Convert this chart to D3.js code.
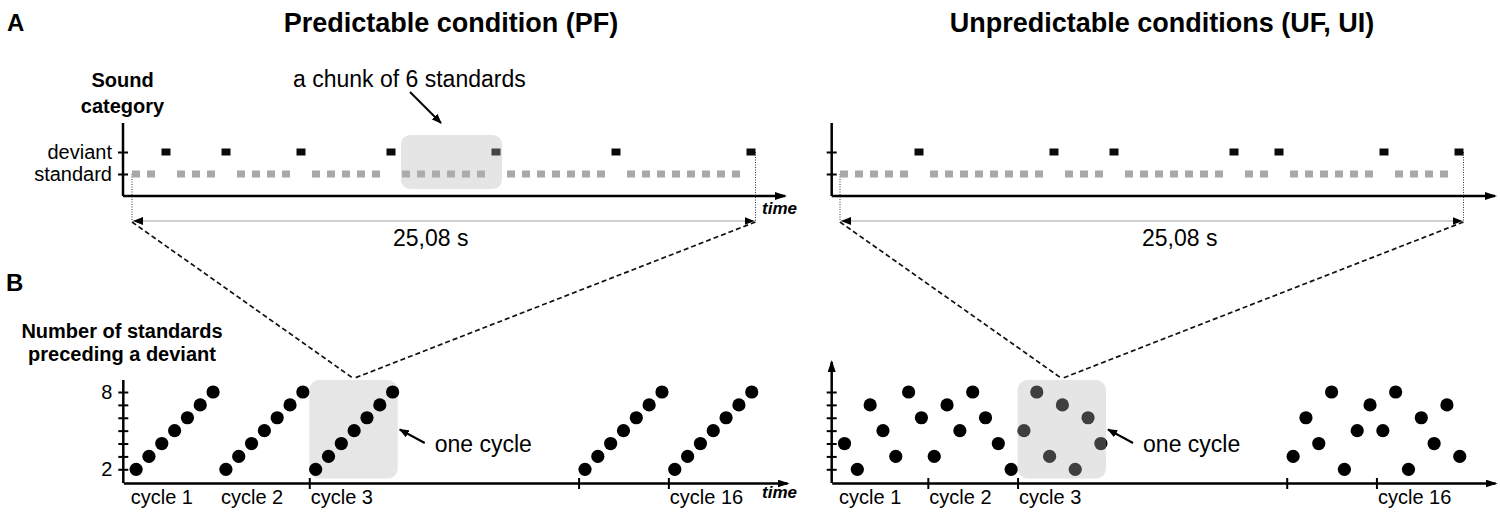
<!DOCTYPE html>
<html>
<head>
<meta charset="utf-8">
<script src="https://cdn.jsdelivr.net/npm/d3@7/dist/d3.min.js"></script>
<style>
    body { margin: 0; background: #fff; }
    svg { display: block; }
    text { font-family: "Liberation Sans", Arial, sans-serif; fill: #000; }
</style>
</head>
<body>
<svg id="figure" width="1500" height="514"></svg>
<script>
// Number of standards preceding each deviant, in the order they are played.
const pfRuns = [2, 3, 4, 5, 6, 7, 8];
const ufRuns = [5, 8, 3, 7, 2, 6, 4];

const categories = ["standard", "deviant"];

// Cycles shown on the lower axis (the gap stands for cycles 4..14).
const cycleNumbers = [1, 2, 3, 15, 16];
const cycleSlots = [0, 1, 2, 5, 6];
const labeledCycles = [1, 2, 3, 16];
const pfTickedCycles = [3, 15, 16];
const ufTickedCycles = [2, 3, 15, 16];
const highlightCycle = 3;

// Number of standards preceding a deviant, per cycle.
const pfCycleValues = [
    [2, 3, 4, 5, 6, 7, 8],
    [2, 3, 4, 5, 6, 7, 8],
    [2, 3, 4, 5, 6, 7, 8],
    [2, 3, 4, 5, 6, 7, 8],
    [2, 3, 4, 5, 6, 7, 8]
];
const ufCycleValues = [
    [4, 2, 7, 5, 3, 8, 6],
    [3, 7, 5, 8, 6, 4, 2],
    [5, 8, 3, 7, 2, 6, 4],
    [3, 6, 4, 8, 2, 5, 7],
    [5, 8, 2, 6, 4, 7, 3]
];

const countTicks = [2, 3, 4, 5, 6, 7, 8];
const countTickLabels = [2, 8];
const durationLabel = "25,08 s";

const svg = d3.select("#figure");
const defs = svg.append("defs");

// Filled arrow heads.
defs.append("marker")
    .attr("id", "axisArrow")
    .attr("markerUnits", "userSpaceOnUse")
    .attr("viewBox", "0 0 12 8")
    .attr("refX", 10).attr("refY", 4)
    .attr("markerWidth", 12).attr("markerHeight", 8)
    .attr("orient", "auto")
    .append("path")
    .attr("d", "M0,0 L12,4 L0,8 Z")
    .attr("fill", "#000");

defs.append("marker")
    .attr("id", "dimArrow")
    .attr("markerUnits", "userSpaceOnUse")
    .attr("viewBox", "0 0 10 8")
    .attr("refX", 10).attr("refY", 4)
    .attr("markerWidth", 10).attr("markerHeight", 8)
    .attr("orient", "auto-start-reverse")
    .append("path")
    .attr("d", "M0,0 L10,4 L0,8 Z")
    .attr("fill", "#000");

defs.append("marker")
    .attr("id", "noteArrow")
    .attr("markerUnits", "userSpaceOnUse")
    .attr("viewBox", "0 0 10 8")
    .attr("refX", 9).attr("refY", 4)
    .attr("markerWidth", 10).attr("markerHeight", 8)
    .attr("orient", "auto")
    .append("path")
    .attr("d", "M0,0 L10,4 L0,8 Z")
    .attr("fill", "#000");

function buildSequence(runs) {
    /*
    Turns run lengths into a list of sound categories.
    */
    let seq = [];
    runs.forEach(function(n) {
        for (let i = 0; i < n; i++) {
            seq.push("standard");
        }
        seq.push("deviant");
    });
    return seq;
}

function line(g, x1, y1, x2, y2, stroke, width) {
    return g.append("line")
        .attr("x1", x1).attr("y1", y1)
        .attr("x2", x2).attr("y2", y2)
        .attr("stroke", stroke)
        .attr("stroke-width", width);
}

function drawSequencePanel(opts) {
    /*
    Upper panel: sequence of standards and deviants along time.
    */
    let g = svg.append("g");
    let seq = buildSequence(opts.runs);

    let x = d3.scaleLinear().domain([0, seq.length - 1]).range(opts.xRange);
    let y = d3.scalePoint().domain(categories).range([174, 152]);

    // Y axis with ticks crossing the line.
    let yAxis = g.append("g")
        .attr("transform", `translate(${opts.axisX},0)`)
        .call(d3.axisLeft(y).tickSize(5).tickFormat(opts.labels ? d => d : ""));
    yAxis.select(".domain").remove();
    yAxis.selectAll(".tick line").attr("x1", 5).attr("stroke-width", 2);
    yAxis.selectAll(".tick text")
        .attr("x", -11)
        .style("font-size", "20px")
        .style("font-family", "'Liberation Sans', Arial, sans-serif");

    line(g, opts.axisX, 196, opts.axisX, 123, "#000", 2.5);

    // Time axis.
    line(g, opts.axisX, 196, opts.axisEnd, 196, "#000", 2.5)
        .attr("marker-end", "url(#axisArrow)");

    // Dimension line under the axis.
    let left = x(0) - 4;
    let right = x(seq.length - 1) + 4.5;
    line(g, left, y("standard"), left, 221, "#333", 1).attr("stroke-dasharray", "1,1.5");
    line(g, right, y("deviant"), right, 221, "#333", 1).attr("stroke-dasharray", "1,1.5");
    line(g, left + 1, 221, right - 1, 221, "#a0a0a0", 1)
        .attr("marker-start", "url(#dimArrow)")
        .attr("marker-end", "url(#dimArrow)");

    g.append("text")
        .attr("x", opts.durationX)
        .attr("y", 246)
        .style("font-size", "23px")
        .text(durationLabel);

    // Sounds.
    g.selectAll("rect.sound")
        .data(seq)
        .enter()
        .append("rect")
        .attr("class", "sound")
        .attr("x", (d, i) => x(i) - (d === "deviant" ? 4.5 : 4))
        .attr("y", d => y(d) - 3.5)
        .attr("width", d => d === "deviant" ? 9 : 8)
        .attr("height", 7)
        .attr("fill", d => d === "deviant" ? "#0a0a0a" : "#a8a8a8");

    return { g: g, x: x, y: y, left: left, right: right };
}

function drawCyclePanel(opts) {
    /*
    Lower panel: number of standards preceding each deviant, per cycle.
    */
    let g = svg.append("g");

    // One unit = one deviant; each cycle spans seven units.
    let x = d3.scaleLinear().domain([-1, 50.75]).range([opts.axisX, opts.axisEnd]);
    let y = d3.scaleLinear().domain([2, 8]).range([469.3, 392]);

    let cycleStart = function(c) {
        return cycleSlots[cycleNumbers.indexOf(c)] * 7 - 0.5;
    };

    // Highlight box behind or over the dots.
    let hc = cycleStart(highlightCycle);
    let box = {
        x0: x(hc), x1: x(hc) + 88.5, y0: 380, y1: 478.5
    };

    let drawBox = function() {
        g.append("rect")
            .attr("x", box.x0).attr("y", box.y0)
            .attr("width", box.x1 - box.x0)
            .attr("height", box.y1 - box.y0)
            .attr("rx", 10)
            .attr("fill", opts.boxOver ? "#b4b4b4" : "#e6e6e6")
            .attr("fill-opacity", opts.boxOver ? 0.35 : 1);
    };

    if (!opts.boxOver) {
        drawBox();
    }

    // Y axis.
    let yAxis = g.append("g")
        .attr("transform", `translate(${opts.axisX},0)`)
        .call(d3.axisLeft(y)
            .tickValues(countTicks)
            .tickSize(5)
            .tickFormat(d => opts.labels && countTickLabels.includes(d) ? d : ""));
    yAxis.select(".domain").remove();
    yAxis.selectAll(".tick line").attr("x1", 5).attr("stroke-width", 2);
    yAxis.selectAll(".tick text")
        .attr("x", -11)
        .style("font-size", "20px")
        .style("font-family", "'Liberation Sans', Arial, sans-serif");

    let yLine = line(g, opts.axisX, 483, opts.axisX, opts.yTop, "#000", 2.5);
    if (opts.yArrow) {
        yLine.attr("marker-end", "url(#axisArrow)");
    }

    // Time axis with cycle boundaries.
    let xAxis = g.append("g")
        .attr("transform", "translate(0,483)")
        .call(d3.axisBottom(x)
            .tickValues(opts.ticked.map(cycleStart))
            .tickSize(6)
            .tickSizeOuter(0)
            .tickFormat(""));
    xAxis.select(".domain")
        .attr("stroke-width", 2.5)
        .attr("marker-end", "url(#axisArrow)");
    xAxis.selectAll(".tick line").attr("y1", -5).attr("stroke-width", 2);

    g.selectAll("text.cycle")
        .data(labeledCycles)
        .enter()
        .append("text")
        .attr("class", "cycle")
        .attr("x", d => x(cycleStart(d)) + (d === 1 ? 1 : 1.5))
        .attr("y", 504)
        .style("font-size", "20px")
        .text(d => `cycle ${d}`);

    // Dots.
    let dots = [];
    opts.values.forEach(function(vals, k) {
        vals.forEach(function(v, j) {
            dots.push({ pos: cycleSlots[k] * 7 + j, value: v, cycle: cycleNumbers[k] });
        });
    });

    g.selectAll("circle.dot")
        .data(dots)
        .enter()
        .append("circle")
        .attr("class", "dot")
        .attr("cx", d => x(d.pos))
        .attr("cy", d => y(d.value))
        .attr("r", 6.6)
        .attr("fill", "#000");

    if (opts.boxOver) {
        drawBox();
    }

    // "one cycle" note.
    g.append("line")
        .attr("x1", box.x1 + 27).attr("y1", 443)
        .attr("x2", box.x1 + 2).attr("y2", 429.5)
        .attr("stroke", "#000")
        .attr("stroke-width", 2)
        .attr("marker-end", "url(#noteArrow)");
    g.append("text")
        .attr("x", box.x1 + 37)
        .attr("y", 452)
        .style("font-size", "23px")
        .text("one cycle");

    return { g: g, box: box };
}

function drawConnectors(top, bottom) {
    /*
    Dashed lines from the sequence span to the highlighted cycle.
    */
    let apexX = (bottom.box.x0 + bottom.box.x1) / 2;
    let apexY = bottom.box.y0 - 1.5;
    [top.left, top.right].forEach(function(px) {
        line(svg, px, 222, apexX, apexY, "#111", 1.7)
            .attr("stroke-dasharray", "5,3");
    });
}

// Panel A, predictable.
let topPF = drawSequencePanel({
    runs: pfRuns, xRange: [136, 751],
    axisX: 123, axisEnd: 785, labels: true, durationX: 393
});

// Chunk of six standards.
let chunkIdx = pfRuns.indexOf(6);
let chunkStart = d3.sum(pfRuns.slice(0, chunkIdx), d => d + 1);
topPF.g.append("rect")
    .attr("x", topPF.x(chunkStart) - 5)
    .attr("y", 135)
    .attr("width", topPF.x(chunkStart + 6) + 6 - (topPF.x(chunkStart) - 5))
    .attr("height", 54)
    .attr("rx", 9)
    .attr("fill", "#b4b4b4")
    .attr("fill-opacity", 0.35);

topPF.g.append("text")
    .attr("x", 293).attr("y", 87)
    .style("font-size", "23px")
    .text("a chunk of 6 standards");
topPF.g.append("line")
    .attr("x1", 410).attr("y1", 92)
    .attr("x2", 441).attr("y2", 123)
    .attr("stroke", "#000")
    .attr("stroke-width", 2)
    .attr("marker-end", "url(#noteArrow)");

// Panel A, unpredictable.
let topUF = drawSequencePanel({
    runs: ufRuns, xRange: [844, 1459],
    axisX: 831.7, axisEnd: 1495, labels: false, durationX: 1142
});

// Panel B.
let botPF = drawCyclePanel({
    values: pfCycleValues, axisX: 123.3, axisEnd: 787, yTop: 380,
    yArrow: false, labels: true, ticked: pfTickedCycles, boxOver: false
});
let botUF = drawCyclePanel({
    values: ufCycleValues, axisX: 831.7, axisEnd: 1495, yTop: 362,
    yArrow: true, labels: false, ticked: ufTickedCycles, boxOver: true
});

drawConnectors(topPF, botPF);
drawConnectors(topUF, botUF);

// Titles and labels.
let labels = [
    { t: "A", x: 7, y: 31, size: 24, anchor: "start" },
    { t: "B", x: 6, y: 291, size: 24, anchor: "start" },
    { t: "Predictable condition (PF)", x: 451, y: 32, size: 27, anchor: "middle" },
    { t: "Unpredictable conditions (UF, UI)", x: 1162, y: 32, size: 27, anchor: "middle" },
    { t: "Sound", x: 122.5, y: 87, size: 20, anchor: "middle" },
    { t: "category", x: 122.5, y: 113, size: 20, anchor: "middle" },
    { t: "Number of standards", x: 122, y: 338, size: 20, anchor: "middle" },
    { t: "preceding a deviant", x: 122, y: 361, size: 20, anchor: "middle" }
];
svg.selectAll("text.label")
    .data(labels)
    .enter()
    .append("text")
    .attr("class", "label")
    .attr("x", d => d.x)
    .attr("y", d => d.y)
    .attr("text-anchor", d => d.anchor)
    .style("font-size", d => `${d.size}px`)
    .style("font-weight", "bold")
    .text(d => d.t);

[214, 498].forEach(function(yy) {
    svg.append("text")
        .attr("x", 762).attr("y", yy)
        .style("font-size", "17px")
        .style("font-weight", "bold")
        .style("font-style", "italic")
        .text("time");
});
</script>
</body>
</html>
